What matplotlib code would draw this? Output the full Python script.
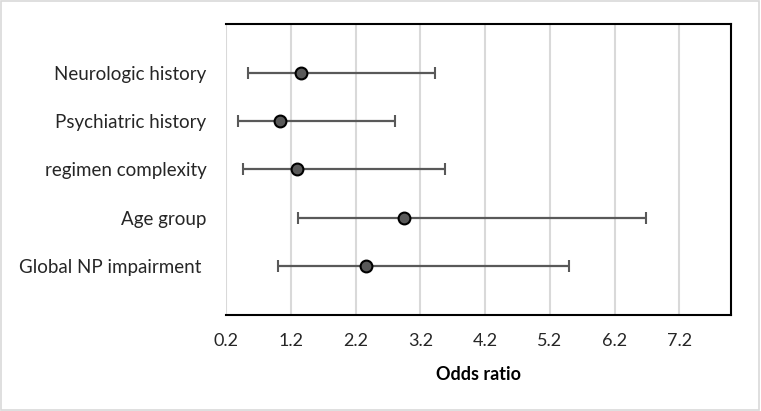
import matplotlib
matplotlib.use("Agg")
import matplotlib.pyplot as plt
from matplotlib.patches import Rectangle

categories = ["Neurologic history", "Psychiatric history", "regimen complexity",
              "Age group", "Global NP impairment "]
odds_ratio = [1.36, 1.03, 1.29, 2.95, 2.36]
ci_lower = [0.54, 0.38, 0.46, 1.31, 1.01]
ci_upper = [3.42, 2.81, 3.58, 6.69, 5.50]
xticks = [0.2, 1.2, 2.2, 3.2, 4.2, 5.2, 6.2, 7.2]

plt.rcParams['font.family'] = ['Lato', 'DejaVu Sans']

fig = plt.figure(figsize=(7.61, 4.11), dpi=100)
ax = fig.add_axes([0.297, 0.2336, 0.664, 0.708])

n = len(categories)
ypos = [n - i for i in range(n)]
xerr = [[o - l for o, l in zip(odds_ratio, ci_lower)],
        [u - o for o, u in zip(odds_ratio, ci_upper)]]
ax.errorbar(odds_ratio, ypos, xerr=xerr, fmt='o', color='#595959', ecolor='#595959',
            elinewidth=1.6, capsize=4.5, capthick=1.6, markersize=8.5,
            markerfacecolor='#595959', markeredgecolor='black', markeredgewidth=1.5,
            zorder=3)

ax.set_xlim(0.2, 8.0)
ax.set_ylim(0, n + 1)
ax.set_xticks(xticks)
ax.set_xticklabels([f"{t:.1f}" for t in xticks])
ax.set_yticks(ypos)
ax.set_yticklabels(categories)
ax.tick_params(axis='x', length=0, pad=13, labelsize=13, labelcolor='#262626')
ax.tick_params(axis='y', length=0, pad=14, labelsize=13.5, labelcolor='#262626')
ax.grid(axis='x', color='#d9d9d9', linewidth=1.5, zorder=0)
ax.set_axisbelow(True)
for s in ['top', 'right', 'bottom']:
    ax.spines[s].set_color('black')
    ax.spines[s].set_linewidth(1.5)
ax.spines['left'].set_visible(False)
ax.set_xlabel("Odds ratio", fontsize=13, fontweight='bold', labelpad=12, color='black')

fig.patches.append(Rectangle((0.001, 0.002), 0.997, 0.995, transform=fig.transFigure,
                             fill=False, edgecolor='#d9d9d9', linewidth=1.2))

fig.savefig("out.png", dpi=100)
